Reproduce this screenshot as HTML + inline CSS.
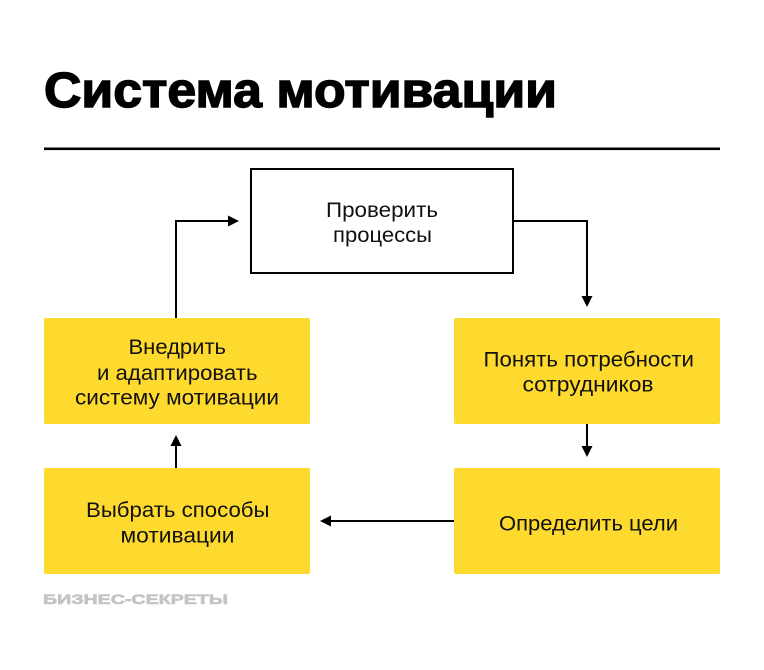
<!DOCTYPE html>
<html>
<head>
<meta charset="utf-8">
<style>
  html, body { margin: 0; padding: 0; background: #ffffff; }
  body { width: 764px; height: 670px; overflow: hidden; }
  svg { display: block; }
  .t { font-family: "Liberation Sans", "DejaVu Sans", sans-serif; font-size: 21px; fill: #111; }
</style>
</head>
<body>
<svg width="764" height="670" viewBox="0 0 764 670" xmlns="http://www.w3.org/2000/svg">
  <rect x="0" y="0" width="764" height="670" fill="#ffffff"/>

  <!-- Title -->
  <text x="44" y="107" font-family="Liberation Sans, Arial, sans-serif" font-weight="bold" font-size="49" fill="#000" stroke="#000" stroke-width="1.4" textLength="513" lengthAdjust="spacingAndGlyphs">Система мотивации</text>

  <!-- Rule -->
  <rect x="44" y="147.5" width="676" height="2.6" fill="#000"/>

  <!-- Top box -->
  <rect x="251" y="169" width="262" height="104" fill="#fff" stroke="#000" stroke-width="2"/>
  <text class="t" x="326" y="217" textLength="112" lengthAdjust="spacingAndGlyphs">Проверить</text>
  <text class="t" x="333" y="242" textLength="99" lengthAdjust="spacingAndGlyphs">процессы</text>

  <!-- Yellow boxes -->
  <rect x="44" y="318" width="266" height="106" rx="2" fill="#FFDA2E"/>
  <rect x="454" y="318" width="266" height="106" rx="2" fill="#FFDA2E"/>
  <rect x="44" y="468" width="266" height="106" rx="2" fill="#FFDA2E"/>
  <rect x="454" y="468" width="266" height="106" rx="2" fill="#FFDA2E"/>

  <!-- Left top box text -->
  <text class="t" x="128.5" y="354" textLength="97.5" lengthAdjust="spacingAndGlyphs">Внедрить</text>
  <text class="t" x="97" y="380" textLength="160.5" lengthAdjust="spacingAndGlyphs">и адаптировать</text>
  <text class="t" x="75" y="404.5" textLength="204" lengthAdjust="spacingAndGlyphs">систему мотивации</text>

  <!-- Right top box text -->
  <text class="t" x="483.5" y="366.7" textLength="210.5" lengthAdjust="spacingAndGlyphs">Понять потребности</text>
  <text class="t" x="522.5" y="391.6" textLength="131" lengthAdjust="spacingAndGlyphs">сотрудников</text>

  <!-- Right bottom box text -->
  <text class="t" x="499" y="530.5" textLength="179" lengthAdjust="spacingAndGlyphs">Определить цели</text>

  <!-- Left bottom box text -->
  <text class="t" x="86" y="517" textLength="183.5" lengthAdjust="spacingAndGlyphs">Выбрать способы</text>
  <text class="t" x="120.5" y="542.4" textLength="114" lengthAdjust="spacingAndGlyphs">мотивации</text>

  <!-- Connectors -->
  <g stroke="#000" stroke-width="2" fill="none">
    <polyline points="514,221 587,221 587,298"/>
    <line x1="587" y1="424" x2="587" y2="448"/>
    <line x1="454" y1="521" x2="329" y2="521"/>
    <line x1="176" y1="468" x2="176" y2="444"/>
    <polyline points="176,318 176,221 230,221"/>
  </g>
  <g fill="#000">
    <polygon points="581.5,296 592.5,296 587,307"/>
    <polygon points="581.5,446 592.5,446 587,457"/>
    <polygon points="331,515.5 331,526.5 320,521"/>
    <polygon points="170.5,446 181.5,446 176,435"/>
    <polygon points="228,215.5 228,226.5 239,221"/>
  </g>

  <!-- Logo -->
  <text x="43" y="604" font-family="Liberation Sans, Arial, sans-serif" font-weight="bold" font-size="14" fill="#c4c4c4" stroke="#c4c4c4" stroke-width="0.6" textLength="185" lengthAdjust="spacingAndGlyphs">БИЗНЕС-СЕКРЕТЫ</text>
</svg>
</body>
</html>
